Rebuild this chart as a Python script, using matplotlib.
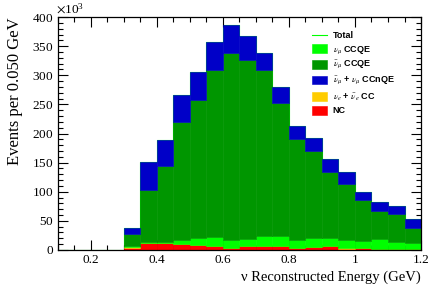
import matplotlib
matplotlib.use("Agg")
import matplotlib.pyplot as plt
import numpy as np
from matplotlib.ticker import MultipleLocator, ScalarFormatter

#==============================================================================
# Data (events per 0.050 GeV bin, in units of 10^3), bins 0.10 -> 1.20 GeV
#==============================================================================
bin_edges = np.arange(0.10, 1.2001, 0.05)
nc      = [0, 0, 0, 0, 4.0, 11.4, 11.4, 10.6, 8.6, 7.0, 3.5, 7.0, 7.0, 7.0, 3.2, 4.6, 6.5, 2.3, 3.2, 1.5, 1.5, 1.7]
nue_cc  = [0, 0, 0, 0, 0.3, 0.3, 0.3, 0.3, 0.3, 0.3, 0.3, 0.3, 0.3, 0.3, 0.3, 0.3, 0.3, 0.3, 0.3, 0.3, 0.3, 0.3]
numu_qe = [0, 0, 0, 0, 2.0, 2.0, 2.0, 6.0, 12.4, 15.4, 13.0, 12.0, 17.0, 16.0, 13.6, 15.4, 14.5, 15.0, 12.4, 17.8, 12.3, 9.7]
nubar_qe = [0, 0, 0, 0, 21, 89.5, 130.5, 203.4, 237, 286.5, 320.6, 307, 284, 229, 173.5, 149, 112, 95.5, 70, 46.5, 47, 26.6]
ccnqe   = [0, 0, 0, 0, 11, 48.6, 44, 45.5, 48, 48.7, 48.4, 42, 29.6, 28, 22.5, 23.5, 22.6, 21.5, 14, 17, 14.5, 14.6]

components = [
    (nc,       '#ff0000', 'NC'),
    (nue_cc,   '#ffcc00', r'$\nu_e$ + $\bar{\nu}_e$ CC'),
    (numu_qe,  '#00ff00', r'$\nu_\mu$ CCQE'),
    (nubar_qe, '#009600', r'$\bar{\nu}_\mu$ CCQE'),
    (ccnqe,    '#0000c8', r'$\bar{\nu}_\mu$ + $\nu_\mu$ CCnQE'),
]

#==============================================================================
# Plot
#==============================================================================
plt.rcParams['font.family'] = 'Liberation Serif'
plt.rcParams['mathtext.fontset'] = 'stix'

fig = plt.figure(figsize=(4.42, 2.99), dpi=100)
ax = fig.add_axes([0.131, 0.164, 0.8215, 0.779])

left = bin_edges[:-1]
bottom = np.zeros(len(left))
handles = {}
for vals, col, lab in components:
    v = np.array(vals) * 1e3
    h = ax.bar(left, v, width=0.05, bottom=bottom, align='edge', color=col,
               edgecolor=col, linewidth=0.4, label=lab, zorder=2)
    handles[lab] = h
    bottom = bottom + v

# total histogram outline
tot, = ax.step(bin_edges, np.append(bottom, bottom[-1]), where='post',
               color='#00ff00', lw=0.8, zorder=1, label='Total')

order = ['Total', r'$\nu_\mu$ CCQE', r'$\bar{\nu}_\mu$ CCQE',
         r'$\bar{\nu}_\mu$ + $\nu_\mu$ CCnQE', r'$\nu_e$ + $\bar{\nu}_e$ CC', 'NC']
handles['Total'] = tot
leg = ax.legend([handles[k] for k in order], order, loc='upper left',
                bbox_to_anchor=(312 / 442, 1 - 31 / 299),
                bbox_transform=fig.transFigure, frameon=False,
                prop={'family': 'Liberation Sans', 'weight': 'bold', 'size': 6.5},
                handlelength=1.7, handleheight=1.1, labelspacing=0.38,
                handletextpad=0.6, borderpad=0, borderaxespad=0)

ax.set_xlim(0.1, 1.2)
ax.set_ylim(0, 400e3)
ax.xaxis.set_major_locator(MultipleLocator(0.2))
ax.xaxis.set_minor_locator(MultipleLocator(0.05))
ax.yaxis.set_major_locator(MultipleLocator(50e3))
ax.yaxis.set_minor_locator(MultipleLocator(10e3))
fmt = ScalarFormatter(useMathText=True)
fmt.set_powerlimits((3, 3))
ax.yaxis.set_major_formatter(fmt)
ax.set_xticks([0.2, 0.4, 0.6, 0.8, 1.0, 1.2])
ax.set_xticklabels(['0.2', '0.4', '0.6', '0.8', '1', '1.2'])

ax.tick_params(which='both', direction='in', top=True, right=True,
               labelsize=9.5, pad=3, width=0.8)
ax.tick_params(which='major', length=7)
ax.tick_params(which='minor', length=3.5)
ax.yaxis.get_offset_text().set_fontsize(9.5)
ax.yaxis.get_offset_text().set_x(-0.005)
for s in ax.spines.values():
    s.set_linewidth(0.9)

ax.set_xlabel('ν Reconstructed Energy (GeV)', fontsize=10.5, loc='right', labelpad=3)
ax.set_ylabel('Events per 0.050 GeV', fontsize=12, loc='top', labelpad=7)

fig.savefig('out.png', dpi=100)
